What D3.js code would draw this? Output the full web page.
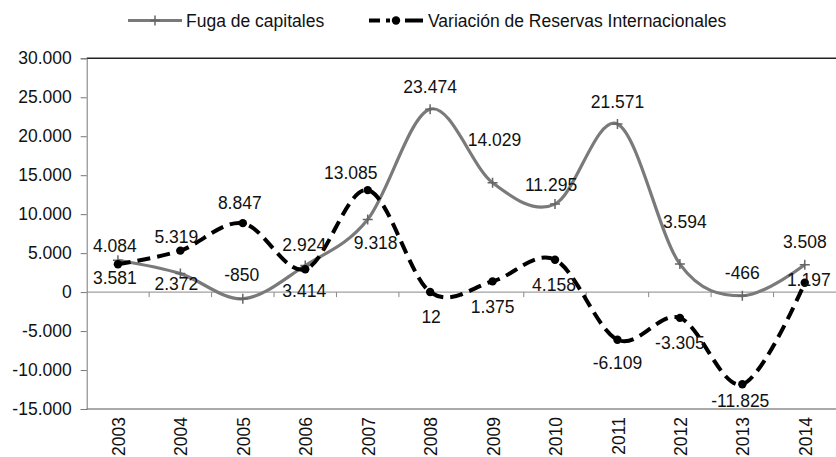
<head>
  <meta charset="UTF-8">
  <script src="https://d3js.org/d3.v7.min.js"></script>
</head>
<body style="margin:0;background:#fff">
  <div id="chartContainer">
    <svg id="chartSVG"></svg>
  </div>
</body>
<style>
  body { font-family: 'Liberation Sans', Arial, sans-serif; }
  .lbl { font-size: 17.5px; fill: #111; }
</style>
<script type="text/javascript">
  // data
  const years = ['2003','2004','2005','2006','2007','2008','2009','2010','2011','2012','2013','2014'];
  const fuga = [4084, 2372, -850, 3414, 9318, 23474, 14029, 11295, 21571, 3594, -466, 3508];
  const reservas = [3581, 5319, 8847, 2924, 13085, 12, 1375, 4158, -6109, -3305, -11825, 1197];
  const yTicks = [30000, 25000, 20000, 15000, 10000, 5000, 0, -5000, -10000, -15000];
  const seriesNames = ['Fuga de capitales', 'Variación de Reservas Internacionales'];

  // label offsets (dx, dy from the point), picked to follow the original
  const fugaLabelOff = [[-3,-14],[-4,10],[-1,-24],[-1,25],[8,23],[0,-22],[2,-43],[-4,-19],[0,-22],[5,-42],[0,-23],[0,-23]];
  const resLabelOff = [[-3,14],[-4,-14],[-3,-20],[-1,-24],[-17,-17],[1,25],[0,25],[-1,25],[0,23],[0,25],[-2,17],[4,-3]];

  const width = 836, height = 457;
  const margin = { top: 58.3, right: 0, bottom: 48, left: 86.7 };

  const svg = d3.select('#chartSVG')
    .attr('width', width)
    .attr('height', height);

  // spanish style: dot for thousands, plain hyphen for minus
  const locale = d3.formatLocale({ decimal: ',', thousands: '.', grouping: [3], currency: ['', ''], minus: '-' });
  const fmt = locale.format(',');

  const x = d3.scalePoint()
    .domain(years)
    .range([margin.left, width - margin.right])
    .padding(0.5);

  const y = d3.scaleLinear()
    .domain([-15000, 30000])
    .range([height - margin.bottom, margin.top]);

  const step = x.step();

  // frame lines top / bottom
  svg.append('line')
    .attr('x1', margin.left).attr('x2', width)
    .attr('y1', y(30000)).attr('y2', y(30000))
    .attr('stroke', '#222').attr('stroke-width', 1.5);
  svg.append('line')
    .attr('x1', margin.left).attr('x2', width)
    .attr('y1', y(-15000)).attr('y2', y(-15000))
    .attr('stroke', '#555').attr('stroke-width', 1);

  // y axis
  const yAxis = svg.append('g')
    .attr('transform', `translate(${margin.left},0)`)
    .call(d3.axisLeft(y).tickValues(yTicks).tickSize(6).tickPadding(9).tickFormat(fmt));
  yAxis.select('.domain').attr('stroke', '#777');
  yAxis.selectAll('.tick line').attr('stroke', '#777');
  yAxis.selectAll('.tick text')
    .attr('class', 'lbl')
    .style('font-family', "'Liberation Sans', Arial, sans-serif")
    .style('font-size', '17.5px')
    .attr('fill', '#111');

  // zero axis with category ticks
  svg.append('line')
    .attr('x1', margin.left).attr('x2', width)
    .attr('y1', y(0)).attr('y2', y(0))
    .attr('stroke', '#888').attr('stroke-width', 1);
  svg.append('g').selectAll('line')
    .data(years.slice(1))
    .join('line')
    .attr('x1', d => x(d) - step / 2).attr('x2', d => x(d) - step / 2)
    .attr('y1', y(0)).attr('y2', y(0) + 5)
    .attr('stroke', '#888');

  // x labels, rotated
  svg.append('g').selectAll('text')
    .data(years)
    .join('text')
    .attr('class', 'lbl')
    .attr('transform', d => `translate(${x(d) + 1},${y(-15000) + 8}) rotate(-90)`)
    .attr('text-anchor', 'end')
    .attr('dy', '0.35em')
    .text(d => d);

  const curve = d3.curveCatmullRom.alpha(0);
  const line = d3.line()
    .x((d, i) => x(years[i]))
    .y(d => y(d))
    .curve(curve);

  // fuga line
  svg.append('path')
    .datum(fuga)
    .attr('d', line)
    .attr('fill', 'none')
    .attr('stroke', '#7a7a7a')
    .attr('stroke-width', 3.2);
  svg.append('g').selectAll('path')
    .data(fuga)
    .join('path')
    .attr('d', (d, i) => {
      const cx = x(years[i]), cy = y(d);
      return `M${cx - 5},${cy}H${cx + 5}M${cx},${cy - 5}V${cy + 5}`;
    })
    .attr('stroke', '#666')
    .attr('stroke-width', 1.5);

  // reservas line
  svg.append('path')
    .datum(reservas)
    .attr('d', line)
    .attr('fill', 'none')
    .attr('stroke', '#000')
    .attr('stroke-width', 4)
    .attr('stroke-dasharray', '13,7');
  svg.append('g').selectAll('circle')
    .data(reservas)
    .join('circle')
    .attr('cx', (d, i) => x(years[i]))
    .attr('cy', d => y(d))
    .attr('r', 4.2)
    .attr('fill', '#000');

  // data labels
  svg.append('g').selectAll('text')
    .data(fuga)
    .join('text')
    .attr('class', 'lbl')
    .attr('x', (d, i) => x(years[i]) + fugaLabelOff[i][0])
    .attr('y', (d, i) => y(d) + fugaLabelOff[i][1])
    .attr('text-anchor', 'middle')
    .attr('dy', '0.35em')
    .text(fmt);
  svg.append('g').selectAll('text')
    .data(reservas)
    .join('text')
    .attr('class', 'lbl')
    .attr('x', (d, i) => x(years[i]) + resLabelOff[i][0])
    .attr('y', (d, i) => y(d) + resLabelOff[i][1])
    .attr('text-anchor', 'middle')
    .attr('dy', '0.35em')
    .text(fmt);

  // legend
  const legend = svg.append('g');
  const ly = 20.5;
  legend.append('line')
    .attr('x1', 128).attr('x2', 182).attr('y1', ly).attr('y2', ly)
    .attr('stroke', '#7a7a7a').attr('stroke-width', 3.2);
  legend.append('path')
    .attr('d', `M150,${ly}H160M155,${ly - 5}V${ly + 5}`)
    .attr('stroke', '#666').attr('stroke-width', 1.5);
  legend.append('text')
    .attr('class', 'lbl')
    .attr('x', 186).attr('y', ly).attr('dy', '0.35em')
    .text(seriesNames[0]);

  legend.append('line')
    .attr('x1', 369).attr('x2', 423).attr('y1', ly).attr('y2', ly)
    .attr('stroke', '#000').attr('stroke-width', 4)
    .attr('stroke-dasharray', '11,6,4,4,5,6,20');
  legend.append('circle')
    .attr('cx', 396).attr('cy', ly).attr('r', 4.2).attr('fill', '#000');
  legend.append('text')
    .attr('class', 'lbl')
    .attr('x', 428).attr('y', ly).attr('dy', '0.35em')
    .text(seriesNames[1]);
</script>
